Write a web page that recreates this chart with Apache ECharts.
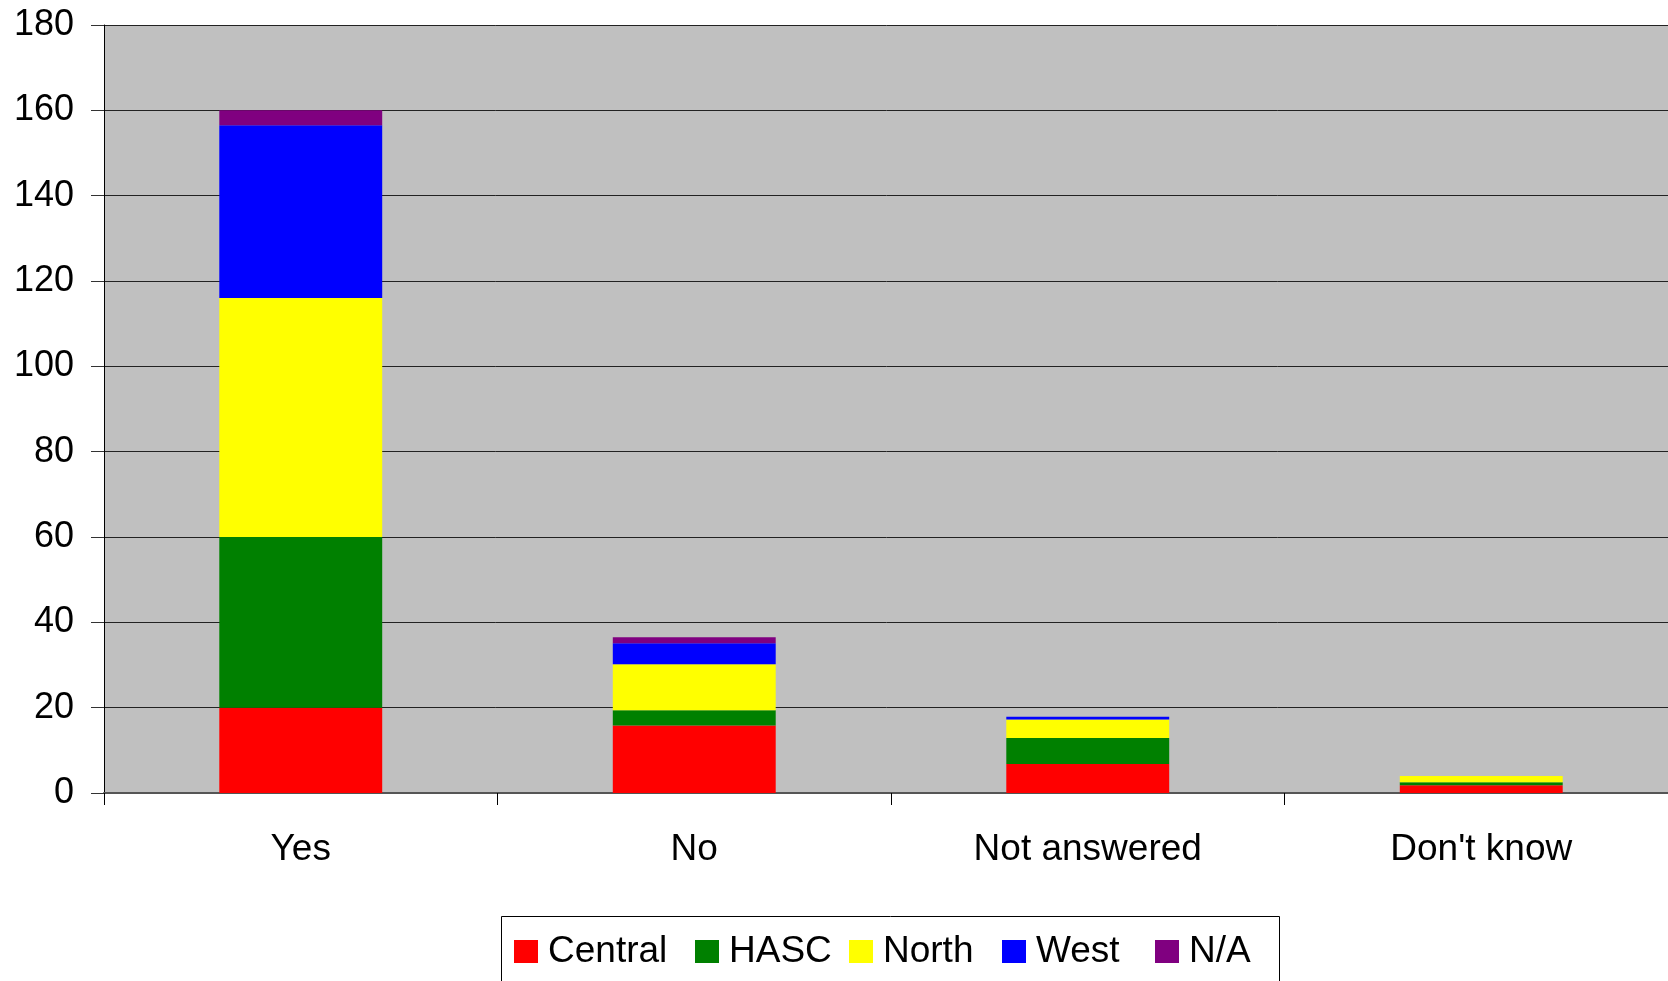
<!DOCTYPE html>
<html>
<head>
<meta charset="utf-8">
<script src="https://cdn.jsdelivr.net/npm/echarts@6/dist/echarts.min.js"></script>
<style>
html,body{margin:0;padding:0;background:#fff;}
#chart{width:1668px;height:981px;}
</style>
</head>
<body>
<div id="chart"></div>
<script>
const categories = ['Yes', 'No', 'Not answered', "Don't know"];
const seriesNames = ['Central', 'HASC', 'North', 'West', 'N/A'];
const central = [20, 15.8, 6.8, 1.8];
const hasc = [40, 3.6, 6.1, 0.7];
const north = [56, 10.8, 4.3, 1.5];
const west = [40.5, 4.9, 0.7, 0];
const na = [3.5, 1.4, 0, 0];
const yTicks = [0, 20, 40, 60, 80, 100, 120, 140, 160, 180];

const values = [central, hasc, north, west, na];
const colors = ['#FF0000', '#008000', '#FFFF00', '#0000FF', '#800080'];
const legendLefts = [514, 695, 849, 1002, 1155];
const FONT = "'Liberation Sans', Arial, sans-serif";

const chart = echarts.init(document.getElementById('chart'));
chart.setOption({
  animation: false,
  backgroundColor: '#ffffff',
  grid: {
    left: 104, right: -10, top: 25, bottom: 188,
    outerBoundsMode: 'none',
    containLabel: false,
    show: true, backgroundColor: '#C0C0C0', borderWidth: 0
  },
  graphic: [{
    type: 'rect', left: 499, top: 914, silent: true,
    shape: { width: 778, height: 80 },
    style: { fill: 'none', stroke: '#000', lineWidth: 1 }
  }],
  legend: seriesNames.map((n, i) => ({
    left: legendLefts[i], top: 933,
    padding: 0,
    itemWidth: 24, itemHeight: 23,
    icon: 'rect',
    data: [n],
    textStyle: { fontFamily: FONT, fontSize: 37, color: '#000', padding: [0, 0, 0, 5] }
  })),
  xAxis: {
    type: 'category',
    data: categories,
    boundaryGap: true,
    axisLine: { show: true, lineStyle: { color: '#555', width: 2 } },
    axisTick: { show: true, length: 12, interval: 0, lineStyle: { color: '#000', width: 1 } },
    axisLabel: { fontFamily: FONT, fontSize: 37, color: '#000', margin: 38, interval: 0 },
    splitLine: { show: false }
  },
  yAxis: {
    type: 'value',
    min: yTicks[0], max: yTicks[yTicks.length - 1], interval: 20,
    axisLine: { show: true, lineStyle: { color: '#000', width: 1 } },
    axisTick: { show: true, length: 13, lineStyle: { color: '#333', width: 1 } },
    axisLabel: { fontFamily: FONT, fontSize: 36, color: '#000', margin: 30 },
    splitLine: { show: true, lineStyle: { color: '#222', width: 1 } }
  },
  series: seriesNames.map((n, i) => ({
    name: n,
    type: 'bar',
    stack: 'total',
    barWidth: '41.4%',
    data: values[i],
    itemStyle: { color: colors[i] }
  }))
});
</script>
</body>
</html>
